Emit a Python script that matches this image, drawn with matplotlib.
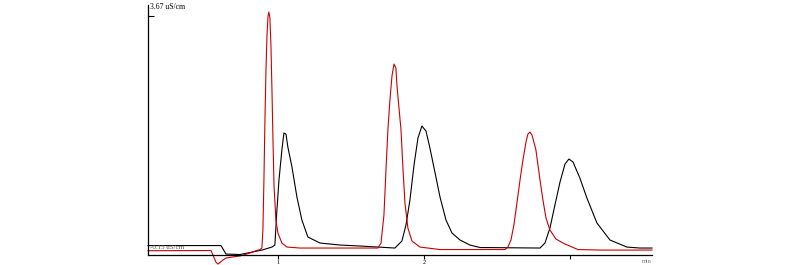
import matplotlib.pyplot as plt

# black trace (time in min, conductivity in uS/cm)
black_t = [0.110, 0.610, 0.644, 0.740, 0.808, 0.890, 0.959, 0.979, 0.993, 1.007,
           1.027, 1.041, 1.055, 1.068, 1.096, 1.130, 1.164, 1.205, 1.288, 1.425,
           1.562, 1.801, 1.849, 1.877, 1.904, 1.932, 1.959, 1.986, 2.014, 2.041,
           2.075, 2.110, 2.151, 2.192, 2.247, 2.315, 2.384, 2.795, 2.829, 2.863,
           2.897, 2.932, 2.966, 2.993, 3.021, 3.068, 3.116, 3.185, 3.274, 3.390,
           3.479, 3.562]
black_v = [-0.013, -0.013, -0.143, -0.150, -0.120, -0.082, -0.036, -0.005, 0.531, 0.990,
           1.450, 1.710, 1.694, 1.495, 1.189, 0.730, 0.378, 0.118, 0.026, -0.005,
           -0.020, -0.051, 0.056, 0.301, 0.684, 1.220, 1.633, 1.817, 1.740, 1.480,
           1.113, 0.730, 0.378, 0.179, 0.072, -0.005, -0.043, -0.051, 0.026, 0.255,
           0.607, 0.960, 1.235, 1.312, 1.266, 1.021, 0.715, 0.332, 0.072, -0.036,
           -0.051, -0.051]

# red trace
red_t = [0.110, 0.541, 0.555, 0.575, 0.589, 0.603, 0.623, 0.644, 0.685, 0.740,
         0.808, 0.843, 0.877, 0.890, 0.897, 0.904, 0.911, 0.918, 0.925, 0.932,
         0.938, 0.945, 0.952, 0.959, 0.966, 0.973, 0.986, 1.000, 1.027, 1.062,
         1.151, 1.425, 1.685, 1.706, 1.726, 1.740, 1.753, 1.767, 1.781, 1.795,
         1.808, 1.815, 1.829, 1.843, 1.856, 1.870, 1.890, 1.918, 1.973, 2.110,
         2.555, 2.575, 2.596, 2.616, 2.637, 2.658, 2.678, 2.699, 2.712, 2.726,
         2.740, 2.753, 2.767, 2.781, 2.795, 2.815, 2.836, 2.863, 2.904, 2.966,
         3.055, 3.206, 3.562]
red_v = [-0.092, -0.089, -0.158, -0.265, -0.296, -0.273, -0.235, -0.204, -0.189, -0.173,
         -0.127, -0.097, -0.074, -0.051, 0.225, 0.990, 1.909, 2.674, 3.210, 3.501,
         3.562, 3.470, 3.057, 2.368, 1.603, 0.914, 0.378, 0.179, 0.026, -0.036,
         -0.051, -0.051, -0.051, 0.026, 0.454, 1.143, 1.756, 2.215, 2.582, 2.766,
         2.705, 2.445, 2.093, 1.756, 1.174, 0.638, 0.255, 0.056, -0.036, -0.074,
         -0.074, -0.036, 0.072, 0.301, 0.638, 0.990, 1.296, 1.572, 1.694, 1.725,
         1.679, 1.572, 1.450, 1.220, 0.990, 0.684, 0.408, 0.225, 0.087, 0.010,
         -0.074, -0.082, -0.082]

x_ticks = [1, 2, 3]
x_labels = ["1", "2", ""]
y_top = 3.67
y_bottom = -0.15

fig = plt.figure(figsize=(8, 2.65), dpi=100)
ax = fig.add_axes([0.185, 0.0396, 0.63, 0.9415])

ax.plot(black_t, black_v, color="black", lw=0.8, clip_on=False)
ax.plot(red_t, red_v, color="#cc0000", lw=0.8, clip_on=False)

ax.set_xlim(0.110, 3.562)
ax.set_ylim(y_bottom, y_top)

for s in ["top", "right"]:
    ax.spines[s].set_visible(False)
ax.spines["left"].set_linewidth(0.9)
ax.spines["bottom"].set_linewidth(0.9)

ax.set_xticks(x_ticks)
ax.set_xticklabels(x_labels, fontsize=4.5, family="Liberation Serif")
ax.tick_params(axis="x", direction="out", length=3, width=0.8, pad=1)
ax.set_yticks([3.5])
ax.set_yticklabels([])
ax.tick_params(axis="y", direction="in", length=4, width=0.8)

ax.text(0.004, 0.993, "3.67 uS/cm", transform=ax.transAxes, fontsize=5.5,
        family="Liberation Serif", va="center", ha="left")
ax.text(0.004, 0.03, "-0.15 uS/cm", transform=ax.transAxes, fontsize=5,
        family="Liberation Serif", va="center", ha="left", color="#555555")
ax.text(1.0, -0.03, "min", transform=ax.transAxes, fontsize=4.5,
        family="Liberation Serif", va="center", ha="right", color="#777777")

fig.savefig("out.png", dpi=100)
